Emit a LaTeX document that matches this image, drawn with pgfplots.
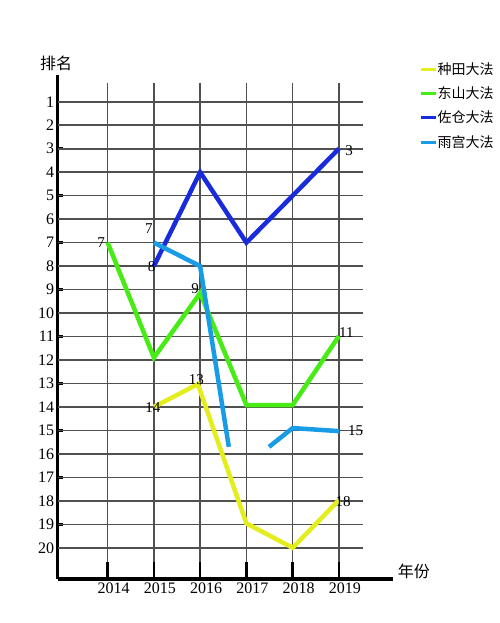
\documentclass[border=0pt]{standalone}
\usepackage{fontspec}
\setmainfont{Liberation Serif}
\newfontfamily\cjk{Noto Sans CJK SC}
\usepackage{pgfplots}
\pgfplotsset{compat=1.18}

\definecolor{cyellow}{RGB}{228,238,30}
\definecolor{cgreen}{RGB}{70,236,20}
\definecolor{cblue}{RGB}{24,44,222}
\definecolor{clblue}{RGB}{24,156,230}
\definecolor{gridgray}{RGB}{80,80,80}

\begin{document}
\begin{tikzpicture}
\begin{axis}[
  scale only axis,
  width=335.3pt, height=504pt,
  xmin=2012.92, xmax=2020.17,
  ymin=-0.14, ymax=21.33,
  y dir=reverse,
  clip=false,
  axis x line=bottom, axis y line=left,
  axis line style={-, line width=3.5pt, black},
  x axis line style={-}, y axis line style={-},
  xtick={2014,2015,2016,2017,2018,2019},
  xticklabels={2014,2015,2016,2017,2018,2019},
  ytick={1,...,20},
  tick align=inside,
  major tick length=5pt,
  xtick style={draw=none},
  ytick style={line width=2.5pt, black},
  /pgf/number format/assume math mode=true,
  tick label style={font=\fontsize{16}{18}\selectfont},
  xticklabel style={xshift=6pt},
  legend style={at={(1.068,1.030)}, anchor=north west, draw=none, fill=none,
    font=\cjk\fontsize{14}{17}\selectfont, row sep=10pt,
    nodes={inner sep=0.5pt}},
  legend cell align=left,
  legend image code/.code={\draw[line width=3pt] (0pt,0pt) -- (15pt,0pt);},
]
% grid, drawn short of the axis ends as in the original
\pgfplotsinvokeforeach{1,...,20}{
  \draw[gridgray, line width=1.6pt] (axis cs:2012.92,#1) -- (axis cs:2019.52,#1);
}
\pgfplotsinvokeforeach{2014,2015,2016,2017,2018,2019}{
  \draw[gridgray, line width=1.6pt] (axis cs:#1,0.19) -- (axis cs:#1,21.33);
  \draw[black, line width=2.5pt] (axis cs:#1,21.33) -- (axis cs:#1,20.61);
}

\addplot[cyellow, line width=4.5pt] coordinates {
  (2015,14.0) (2015.95,13.03) (2017,18.96) (2018,20.0) (2019,17.97)};
\addlegendentry{种田大法}
\addplot[cgreen, line width=4.5pt] coordinates {
  (2014,7) (2015,11.9) (2016,9.15) (2017,13.92) (2018,13.92) (2019,10.98)};
\addlegendentry{东山大法}
\addplot[cblue, line width=4.5pt] coordinates {
  (2015,8) (2016,4) (2017,7) (2018,5) (2019,3)};
\addlegendentry{佐仓大法}
\addplot[clblue, line width=4.5pt, unbounded coords=jump] coordinates {
  (2015,7) (2016,8) (2016.62,15.7) (2017,nan) (2017.49,15.7) (2018,14.9) (2019,15.03)};
\addlegendentry{雨宫大法}

% point labels
\begin{scope}[font=\fontsize{15}{17}\selectfont]
\node at (axis cs:2013.86,6.99) {7};
\node at (axis cs:2014.89,6.42) {7};
\node at (axis cs:2014.95,8.03) {8};
\node at (axis cs:2015.89,8.95) {9};
\node at (axis cs:2014.98,14.02) {14};
\node at (axis cs:2015.92,12.83) {13};
\node at (axis cs:2019.22,3.06) {3};
\node at (axis cs:2019.16,10.84) {11};
\node at (axis cs:2019.36,14.99) {15};
\node at (axis cs:2019.09,18.04) {18};
\end{scope}

\node[font=\cjk\fontsize{16}{18}\selectfont] at (axis description cs:-0.005,1.024) {排名};
\node[font=\cjk\fontsize{16}{18}\selectfont] at (axis description cs:1.0626,0.0145) {年份};
\end{axis}
\pgfresetboundingbox
\path[use as bounding box] (-57.7pt,-44pt) rectangle (442.3pt,579pt);
\end{tikzpicture}
\end{document}
